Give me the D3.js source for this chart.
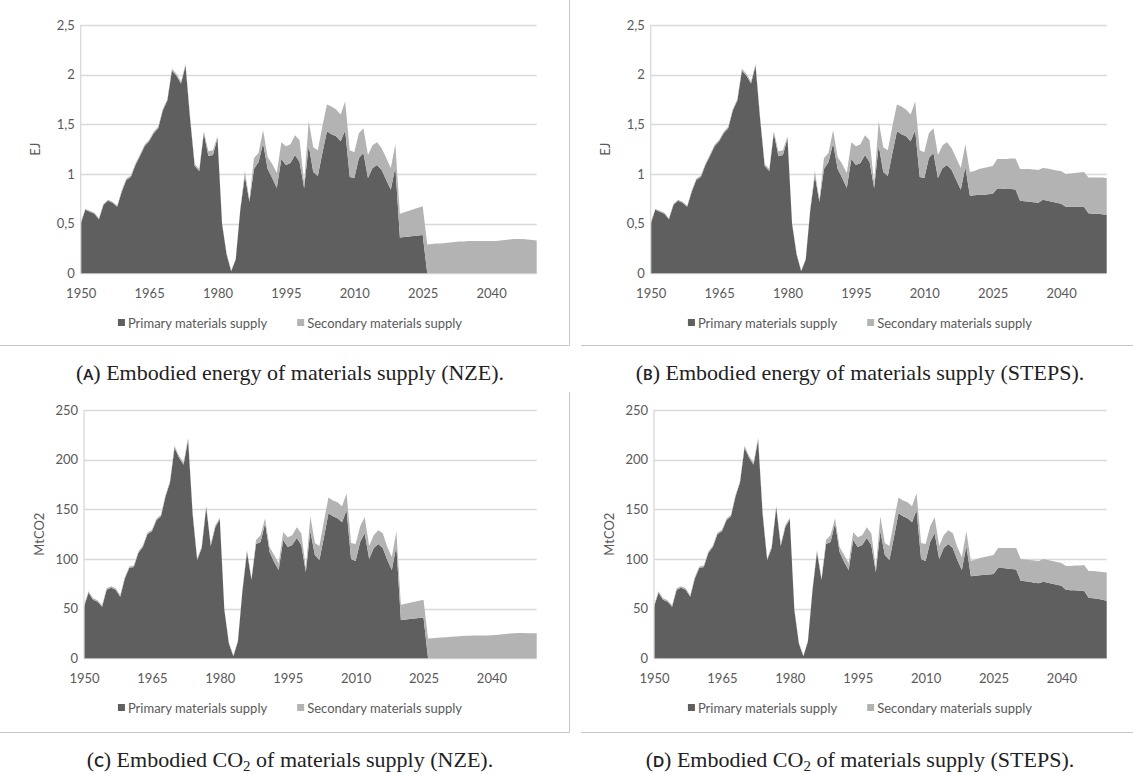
<!DOCTYPE html>
<html><head><meta charset="utf-8">
<script src="https://cdn.jsdelivr.net/npm/d3@7"></script>
<style>body{margin:0;background:#fff}</style></head>
<body>
<svg id="c" width="1133" height="774"></svg>
<script>
// ---------- DATA ----------
const years = [1950,1951,1952,1953,1954,1955,1956,1957,1958,1959,1960,1961,1962,1963,1964,1965,1966,1967,1968,1969,
1970,1971,1972,1973,1974,1975,1976,1977,1978,1979,1980,1981,1982,1983,1984,1985,1986,1987,1988,1989,
1990,1991,1992,1993,1994,1995,1996,1997,1998,1999,2000,2001,2002,2003,2004,2005,2006,2007,2008,2009,
2010,2011,2012,2013,2014,2015,2016,2017,2018,2019,2020,2021,2022,2023,2024,2025,2026,2027,2028,2029,
2030,2031,2032,2033,2034,2035,2036,2037,2038,2039,2040,2041,2042,2043,2044,2045,2046,2047,2048,2049,2050];
const xTickLabels = ["1950","1965","1980","1995","2010","2025","2040"];
const energyTicks = [0,0.5,1,1.5,2,2.5];
const energyTickLabels = ["0","0,5","1","1,5","2","2,5"];
const co2Ticks = [0,50,100,150,200,250];
const co2TickLabels = ["0","50","100","150","200","250"];
const seriesNames = ["Primary materials supply","Secondary materials supply"];

// Embodied energy (EJ), historical 1950-2019
const energyPrimaryHist = [0.50,0.64,0.62,0.60,0.545,0.69,0.73,0.71,0.67,0.82,
0.94,0.97,1.09,1.18,1.28,1.33,1.41,1.46,1.64,1.74,
2.04,1.99,1.91,2.09,1.55,1.08,1.03,1.41,1.18,1.19,
1.36,0.50,0.19,0.02,0.14,0.64,0.98,0.72,1.05,1.12,
1.31,1.05,0.96,0.86,1.15,1.09,1.11,1.19,1.12,0.86,
1.29,1.02,0.98,1.21,1.43,1.40,1.38,1.33,1.44,0.97,
0.96,1.16,1.21,0.96,1.06,1.09,1.04,0.94,0.84,1.07];
const energySecondaryHist = [0.01,0.01,0.01,0.01,0.01,0.01,0.01,0.01,0.01,0.015,
0.015,0.015,0.015,0.015,0.015,0.015,0.015,0.015,0.015,0.015,
0.02,0.02,0.02,0.02,0.02,0.02,0.02,0.02,0.05,0.05,
0.02,0.01,0.01,0.01,0.01,0.01,0.05,0.02,0.11,0.09,
0.13,0.12,0.14,0.15,0.17,0.19,0.19,0.20,0.22,0.05,
0.24,0.25,0.26,0.27,0.27,0.28,0.27,0.27,0.29,0.27,
0.26,0.25,0.25,0.23,0.23,0.23,0.22,0.22,0.22,0.23];
// Projections 2020-2050
const energyPrimaryNZE = [0.36,0.365,0.37,0.375,0.38,0.385,0,0,0,0,
0,0,0,0,0,0,0,0,0,0,0,0,0,0,0,0,0,0,0,0,0];
const energySecondaryNZE = [0.24,0.25,0.26,0.27,0.28,0.29,0.29,0.295,0.30,0.30,
0.305,0.31,0.315,0.32,0.32,0.325,0.325,0.325,0.325,0.325,
0.325,0.325,0.33,0.335,0.34,0.345,0.345,0.345,0.34,0.335,0.33];
const energyPrimarySTEPS = [0.78,0.785,0.79,0.79,0.795,0.80,0.855,0.855,0.85,0.85,
0.845,0.73,0.725,0.72,0.715,0.71,0.74,0.73,0.72,0.71,
0.70,0.67,0.67,0.67,0.67,0.67,0.605,0.60,0.60,0.595,0.59];
const energySecondarySTEPS = [0.24,0.245,0.26,0.27,0.275,0.28,0.295,0.295,0.30,0.305,
0.31,0.32,0.325,0.33,0.33,0.33,0.32,0.325,0.325,0.325,
0.33,0.33,0.335,0.34,0.345,0.35,0.36,0.365,0.365,0.37,0.37];

// Embodied CO2 (MtCO2), historical 1950-2019
const co2PrimaryHist = [52,66,59,57,52,69,71,69,62,80,
91,92,106,112,125,128,139,143,163,177,
212,202,195,220,145,99,111,152,113,132,
140,49,15,2,17,68,107,79,115,117,
136,107,97,89,119,112,114,121,114,87,
128,104,99,122,146,143,141,137,149,100,
98,117,126,100,111,115,111,99,89,113];
const co2SecondaryHist = [1.5,1.5,1.5,1.5,1.5,1.5,1.5,1.5,1.5,1.5,
1.5,1.5,1.5,1.5,1.5,1.5,1.5,1.5,1.5,1.5,
2,2,2,2,2,1.5,1.5,1.5,2,2,
1.5,1,1,1,1,1,2,1,4,7,
5,5,7,7,8,10,10,11,12,4,
15,12,14,16,16,16,16,16,17,16,
17,16,16,13,13,14,15,13,13,15];
const co2PrimaryNZE = [38.5,39,39.5,40,40.5,41,0,0,0,0,
0,0,0,0,0,0,0,0,0,0,0,0,0,0,0,0,0,0,0,0,0];
const co2SecondaryNZE = [15.5,16,16.5,17,17.5,18,20,20.3,20.6,21,
21.3,21.6,22,22.3,22.6,22.8,23,23,23,23,
23.2,23.5,24,24.5,25,25.3,25.5,25.5,25.3,25.2,25.2];
const co2PrimarySTEPS = [82.5,83,83.5,84,84.5,85,91,91,90.5,90,
89.5,78,77.5,77,76,75.5,77,76,75,74,
73,69,68.5,68.5,68,68,61,60.5,60,59,58];
const co2SecondarySTEPS = [15.5,16.5,17.5,18,18.5,19,20,20,20.5,21,
21.5,22,22,22,22.5,22.5,23,23,23,23,
23,24,24.5,25,25.5,26,27,27.5,27.5,28,28.5];

// ---------- DRAW ----------
const svg = d3.select("#c");
const textColor = "#595959";
const colors = ["#5f5f5f", "#b3b3b3"];
const gridColor = "#d9d9d9";
const frameColor = "#c6c6c6";
const sans = "Lato, 'Open Sans', sans-serif";
const serif = "'Liberation Serif', 'DejaVu Serif', serif";

const panels = [
  {letter:"A", left:80.7, right:536.7, top:25, bottom:273.3, xLabY:296, legY:323, capY:380, cx:290, yTitle:"EJ",
   ticks:energyTicks, tickLabels:energyTickLabels, max:2.5,
   primary:energyPrimaryHist.concat(energyPrimaryNZE), secondary:energySecondaryHist.concat(energySecondaryNZE),
   caption:["Embodied energy of materials supply (NZE)."]},
  {letter:"B", left:650.7, right:1106.7, top:25, bottom:273.3, xLabY:296, legY:323, capY:380, cx:860, yTitle:"EJ",
   ticks:energyTicks, tickLabels:energyTickLabels, max:2.5,
   primary:energyPrimaryHist.concat(energyPrimarySTEPS), secondary:energySecondaryHist.concat(energySecondarySTEPS),
   caption:["Embodied energy of materials supply (STEPS)."]},
  {letter:"C", left:84, right:536.7, top:410, bottom:658.3, xLabY:681, legY:708, capY:767, cx:290, yTitle:"MtCO2",
   ticks:co2Ticks, tickLabels:co2TickLabels, max:250,
   primary:co2PrimaryHist.concat(co2PrimaryNZE), secondary:co2SecondaryHist.concat(co2SecondaryNZE),
   caption:["Embodied CO","2"," of materials supply (NZE)."]},
  {letter:"D", left:654, right:1106.7, top:410, bottom:658.3, xLabY:681, legY:708, capY:767, cx:860, yTitle:"MtCO2",
   ticks:co2Ticks, tickLabels:co2TickLabels, max:250,
   primary:co2PrimaryHist.concat(co2PrimarySTEPS), secondary:co2SecondaryHist.concat(co2SecondarySTEPS),
   caption:["Embodied CO","2"," of materials supply (STEPS)."]}
];

// frames
const frames = [
  [569.5, 0, 569.5, 345.5], [0, 345.5, 569.5, 345.5], [581, 345.5, 1133, 345.5],
  [569.5, 392, 569.5, 732.5], [0, 732.5, 569.5, 732.5], [581, 732.5, 1133, 732.5]
];
svg.selectAll("line.frame").data(frames).enter().append("line")
  .attr("x1", d => d[0]).attr("y1", d => d[1]).attr("x2", d => d[2]).attr("y2", d => d[3])
  .attr("stroke", frameColor).attr("stroke-width", 1);

panels.forEach(p => {
  const g = svg.append("g");
  const x = d3.scalePoint().domain(years).range([p.left, p.right]);
  const y = d3.scaleLinear().domain([0, p.max]).range([p.bottom, p.top]);

  // gridlines
  g.selectAll("line.grid").data(p.ticks).enter().append("line")
    .attr("x1", p.left).attr("x2", p.right)
    .attr("y1", d => Math.round(y(d)) + 0.5).attr("y2", d => Math.round(y(d)) + 0.5)
    .attr("stroke", gridColor).attr("stroke-width", 1.3);

  // stacked areas
  const rows = years.map((yr, i) => ({year: yr, p: p.primary[i], s: p.secondary[i]}));
  const stack = d3.stack().keys(["p", "s"])(rows);
  const area = d3.area().x(d => x(d.data.year)).y0(d => y(d[0])).y1(d => y(d[1]));
  g.selectAll("path.area").data(stack).enter().append("path")
    .attr("d", area).attr("fill", (d, i) => colors[i]);

  // y-axis line
  g.append("line").attr("x1", p.left).attr("x2", p.left).attr("y1", p.top).attr("y2", p.bottom)
    .attr("stroke", gridColor).attr("stroke-width", 1.3);

  // x axis
  const xAxis = d3.axisBottom(x).tickValues(xTickLabels.map(Number)).tickSize(0).tickPadding(0);
  const xa = g.append("g").attr("transform", `translate(0,${p.xLabY - 8})`).call(xAxis);
  xa.select(".domain").remove();
  xa.selectAll("text").attr("fill", textColor).attr("font-size", 13).attr("font-family", sans).attr("dy", "0.8em");

  // y axis
  const yAxis = d3.axisLeft(y).tickValues(p.ticks).tickFormat((d, i) => p.tickLabels[i]).tickSize(0).tickPadding(6);
  const ya = g.append("g").attr("transform", `translate(${p.left},0)`).call(yAxis);
  ya.select(".domain").remove();
  ya.selectAll("text").attr("fill", textColor).attr("font-size", 13).attr("font-family", sans);

  // y title
  g.append("text").attr("transform", `translate(${p.left - 45},${(p.top + p.bottom) / 2}) rotate(-90)`)
    .attr("text-anchor", "middle").attr("dy", "0.35em")
    .attr("fill", textColor).attr("font-size", 13).attr("font-family", sans).text(p.yTitle);

  // legend
  const leg = g.append("g");
  let cx = 0;
  seriesNames.forEach((name, i) => {
    leg.append("rect").attr("x", cx).attr("y", -4).attr("width", 7).attr("height", 7).attr("fill", colors[i]);
    const t = leg.append("text").attr("x", cx + 10).attr("y", 0).attr("dy", "0.35em")
      .attr("fill", textColor).attr("font-size", 13).attr("font-family", sans).text(name);
    cx += 10 + t.node().getComputedTextLength() + 30;
  });
  const lw = cx - 30;
  leg.attr("transform", `translate(${p.cx - 5 - lw / 2 + 5},${p.legY})`);

  // caption
  const cap = svg.append("text").attr("y", p.capY).attr("fill", "#222")
    .attr("font-family", serif).attr("font-size", 22);
  cap.append("tspan").text("(");
  cap.append("tspan").attr("font-family", sans).attr("font-weight", "bold").attr("font-size", 14.5).text(p.letter);
  cap.append("tspan").text(") ");
  p.caption.forEach((s, i) => {
    if (i === 1) cap.append("tspan").attr("font-size", 15).attr("dy", 4).text(s);
    else if (i === 2) cap.append("tspan").attr("dy", -4).text(s);
    else cap.append("tspan").text(s);
  });
  const w = cap.node().getComputedTextLength();
  cap.attr("x", p.cx - w / 2);
});
</script>
</body></html>
